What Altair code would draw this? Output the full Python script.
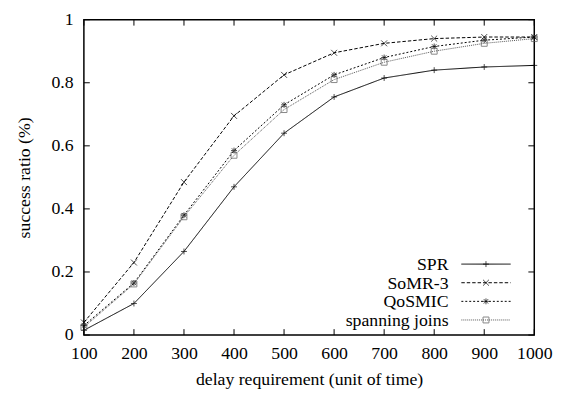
import altair as alt
import pandas as pd

delays = [100, 200, 300, 400, 500, 600, 700, 800, 900, 1000]
spr = [0.015, 0.10, 0.265, 0.47, 0.64, 0.755, 0.815, 0.84, 0.85, 0.855]
somr3 = [0.04, 0.23, 0.485, 0.695, 0.825, 0.895, 0.925, 0.94, 0.945, 0.945]
qosmic = [0.03, 0.165, 0.38, 0.585, 0.73, 0.825, 0.88, 0.915, 0.935, 0.945]
spanning = [0.025, 0.162, 0.375, 0.57, 0.715, 0.81, 0.865, 0.90, 0.925, 0.94]

names = ["SPR", "SoMR-3", "QoSMIC", "spanning joins"]
series = [spr, somr3, qosmic, spanning]
x_ticks = [100, 200, 300, 400, 500, 600, 700, 800, 900, 1000]
y_ticks = [0, 0.2, 0.4, 0.6, 0.8, 1.0]

rows = []
for n, vals in zip(names, series):
    for d, v in zip(delays, vals):
        rows.append({"series": n, "delay": d, "ratio": v})
df = pd.DataFrame(rows)

W, H = 457, 320
FONT = "Liberation Serif, Times New Roman, Times, serif"
FS = 18

color = alt.Color("series:N", scale=alt.Scale(domain=names, range=["#000", "#000", "#000", "#555"]), legend=None)
dash = alt.StrokeDash("series:N", scale=alt.Scale(domain=names, range=[[1, 0], [3.5, 2], [2, 2], [1, 1]]), legend=None)
plus = "M-1,0L1,0M0,-1L0,1"
cross = "M-1,-1L1,1M-1,1L1,-1"
aster = "M-1,0L1,0M0,-1L0,1M-0.75,-0.75L0.75,0.75M-0.75,0.75L0.75,-0.75"
shape = alt.Shape("series:N", scale=alt.Scale(domain=names, range=[plus, cross, aster, "square"]), legend=None)

xenc = alt.X("delay:Q", scale=alt.Scale(domain=[100, 1000], nice=False),
             axis=alt.Axis(values=x_ticks, title="delay requirement (unit of time)", grid=False,
                           ticks=False, domain=False, labelPadding=10, titlePadding=8,
                           labelFlush=False, format="d"))
yenc = alt.Y("ratio:Q", scale=alt.Scale(domain=[0, 1], nice=False),
             axis=alt.Axis(values=y_ticks, title="success ratio (%)", grid=False, format="~g",
                           ticks=False, domain=False, labelPadding=11, titlePadding=18,
                           labelFlush=False))

base = alt.Chart(df)
lines = base.mark_line(strokeWidth=1).encode(x=xenc, y=yenc, color=color, strokeDash=dash)
points = base.mark_point(size=36, strokeWidth=1, filled=False).encode(
    x="delay:Q", y="ratio:Q", color=color, shape=shape)

xt = pd.DataFrame({"t": x_ticks})
yt = pd.DataFrame({"t": y_ticks})
TL = 6
xb = alt.Chart(xt).mark_rule(color="black").encode(x="t:Q", y=alt.value(H), y2=alt.value(H - TL))
xtop = alt.Chart(xt).mark_rule(color="black").encode(x="t:Q", y=alt.value(0), y2=alt.value(TL))
yl = alt.Chart(yt).mark_rule(color="black").encode(y="t:Q", x=alt.value(0), x2=alt.value(TL))
yr = alt.Chart(yt).mark_rule(color="black").encode(y="t:Q", x=alt.value(W), x2=alt.value(W - TL))

leg = pd.DataFrame({"series": names, "idx": [0, 1, 2, 3]})
lbase = alt.Chart(leg).transform_calculate(ly="248 + 18.9*datum.idx", lx0="383", lx1="433", lxm="408", ltx="370")
ltext = lbase.mark_text(align="right", baseline="middle", font=FONT, fontSize=FS, color="black", dy=1).encode(
    x=alt.X("ltx:Q", scale=None), y=alt.Y("ly:Q", scale=None), text="series:N")
lrule = lbase.mark_rule(strokeWidth=1).encode(
    x=alt.X("lx0:Q", scale=None), x2="lx1:Q", y=alt.Y("ly:Q", scale=None), color=color, strokeDash=dash)
lpt = lbase.mark_point(size=36, strokeWidth=1, filled=False).encode(
    x=alt.X("lxm:Q", scale=None), y=alt.Y("ly:Q", scale=None), color=color, shape=shape)

chart = alt.layer(lines, points, xb, xtop, yl, yr, lrule, lpt, ltext).properties(
    width=W, height=H, background="white",
    autosize=alt.AutoSizeParams(type="none"),
    padding={"left": 77, "top": 9, "right": 19, "bottom": 60}
).configure_view(stroke="black", strokeWidth=1.5).configure_axis(
    labelFont=FONT, titleFont=FONT, labelFontSize=FS, titleFontSize=FS,
    labelColor="black", titleColor="black", titleFontWeight="normal"
)

chart.save("out.html", embed_options={"renderer": "svg", "actions": False})
